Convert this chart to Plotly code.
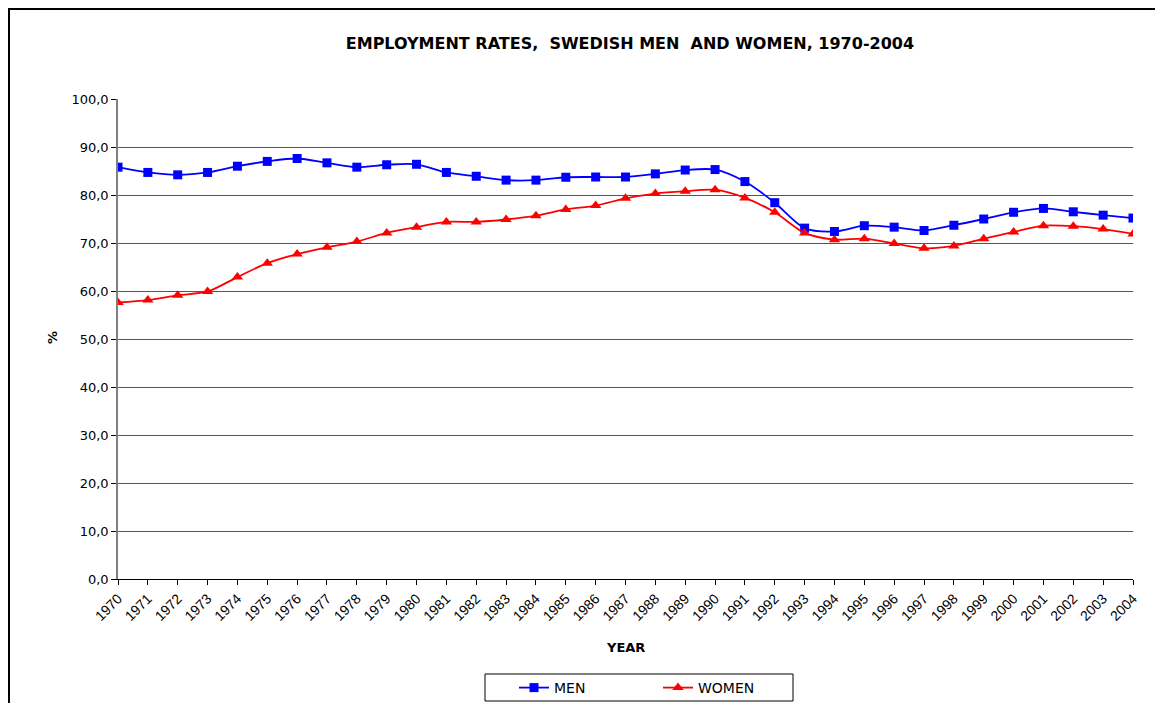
import plotly.graph_objects as go

years = list(range(1970, 2005))
men = [85.8, 84.7, 84.2, 84.7, 86.0, 87.0, 87.6, 86.7, 85.8, 86.3, 86.4, 84.7,
       83.9, 83.1, 83.1, 83.7, 83.75, 83.75, 84.4, 85.2, 85.3, 82.8, 78.4,
       73.1, 72.4, 73.6, 73.3, 72.6, 73.7, 75.0, 76.4, 77.2, 76.5, 75.8, 75.2]
women = [57.6, 58.1, 59.1, 59.9, 62.9, 65.8, 67.7, 69.1, 70.3, 72.1, 73.3, 74.4,
         74.4, 74.9, 75.7, 77.0, 77.8, 79.3, 80.3, 80.8, 81.1, 79.4, 76.4,
         72.1, 70.7, 70.9, 69.9, 68.9, 69.4, 70.9, 72.3, 73.6, 73.5, 72.9, 71.9]
y_ticks = [0, 10, 20, 30, 40, 50, 60, 70, 80, 90, 100]

FONT = "DejaVu Sans, Arial, sans-serif"
ARIAL = "Liberation Sans, Arial, sans-serif"

fig = go.Figure()
fig.add_trace(go.Scatter(x=years, y=men, name="MEN", mode="lines+markers",
                         line=dict(color="#0000ff", width=1.8, shape="spline", smoothing=0.8),
                         marker=dict(symbol="square", size=9, color="#0000ff")))
fig.add_trace(go.Scatter(x=years, y=women, name="WOMEN", mode="lines+markers",
                         line=dict(color="#ff0000", width=1.8, shape="spline", smoothing=0.8),
                         marker=dict(symbol="triangle-up", size=10, color="#ff0000")))

# page has an 8px body margin; coordinates below are figure coords
W, H = 1147, 695
L, T = 110, 91
pw, ph = 1015, 480
R, B = W - L - pw, H - T - ph
bottom = T + ph  # figure y of plot bottom


def px(xf):
    return (xf - L) / pw


def py(yf):
    return (bottom - yf) / ph


fig.update_layout(
    width=W, height=H,
    margin=dict(l=L, r=R, t=T, b=B, autoexpand=False),
    paper_bgcolor="white", plot_bgcolor="white",
    separators=",.",
    font=dict(family=FONT, size=13, color="black"),
    title=dict(text="<b>EMPLOYMENT RATES,  SWEDISH MEN  AND WOMEN, 1970-2004</b>",
               x=578.5 / W, xanchor="center", xref="paper",
               y=1 - 35 / H, yanchor="middle", font=dict(size=16, family=FONT)),
    xaxis=dict(range=[1970, 2004], tickmode="array", tickvals=years,
               ticktext=[str(y) for y in years], tickangle=-45,
               showgrid=False, zeroline=False, showline=True, linecolor="#000000",
               linewidth=1,
               ticks="outside", ticklen=5, tickcolor="#000000",
               tickfont=dict(size=14, family=ARIAL)),
    yaxis=dict(range=[0, 100], tickmode="array", tickvals=y_ticks, tickformat=".1f",
               showgrid=True, gridcolor="#555555", gridwidth=1,
               zeroline=False, showline=True, linecolor="#808080", linewidth=1.5,
               ticks="outside", ticklen=5, tickcolor="#000000",
               tickfont=dict(size=13, family=FONT)),
    legend=dict(orientation="h", x=px(506), xanchor="left",
                y=py(680), yanchor="middle",
                borderwidth=0, bgcolor="rgba(0,0,0,0)",
                entrywidth=99, entrywidthmode="pixels",
                font=dict(size=14, family=FONT)),
    showlegend=True,
)

fig.add_annotation(text="<b>YEAR</b>", xref="paper", yref="paper",
                   x=px(617), y=py(639), showarrow=False,
                   xanchor="center", yanchor="middle", font=dict(size=13, family=FONT))
fig.add_annotation(text="<b>%</b>", xref="paper", yref="paper",
                   x=px(44), y=py(330), showarrow=False, textangle=-90,
                   xanchor="center", yanchor="middle", font=dict(size=13, family=FONT))

# legend box
fig.add_shape(type="rect", xref="paper", yref="paper",
              x0=px(477), x1=px(785), y0=py(666), y1=py(693),
              line=dict(color="#000000", width=1), fillcolor="rgba(0,0,0,0)")

# outer chart frame (left and top edges)
fig.add_shape(type="line", xref="paper", yref="paper",
              x0=px(0), x1=px(0), y0=py(H + 5), y1=py(0),
              line=dict(color="black", width=4))
fig.add_shape(type="line", xref="paper", yref="paper",
              x0=px(0), x1=px(W + 5), y0=py(0), y1=py(0),
              line=dict(color="black", width=4))

fig.write_html("out.html")
